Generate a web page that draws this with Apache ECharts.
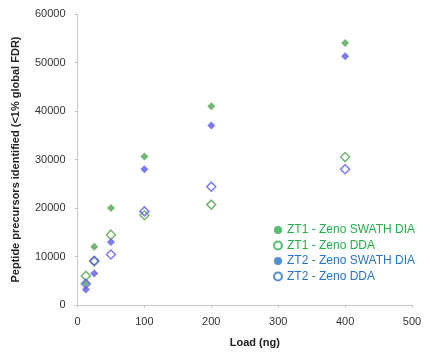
<!DOCTYPE html>
<html>
<head>
<meta charset="utf-8">
<script src="https://cdn.jsdelivr.net/npm/echarts@6/dist/echarts.min.js"></script>
<style>html,body{margin:0;padding:0;background:#fff}#c{width:430px;height:358px}</style>
</head>
<body>
<div id="c"></div>
<script>
var loads = [12.5, 25, 50, 100, 200, 400];
var zt1Swath = [4500, 12000, 20000, 30600, 41000, 54000];
var zt1Dda = [6000, 9000, 14500, 18500, 20700, 30500];
var zt2Swath = [3200, 6500, 13000, 28000, 37000, 51300];
var zt2Dda = [4400, 9100, 10400, 19300, 24400, 28000];
var seriesNames = ['ZT1 - Zeno SWATH DIA', 'ZT1 - Zeno DDA', 'ZT2 - Zeno SWATH DIA', 'ZT2 - Zeno DDA'];

function pairs(ys){ return loads.map(function(x,i){ return [x, ys[i]]; }); }

var GREEN = '#55a355', BLUE = '#5a5af2';
var LG = '#25ae4c', LB = '#2874c8';
var font = 'Liberation Sans, Arial, sans-serif';

var chart = echarts.init(document.getElementById('c'));
chart.setOption({
  animation: false,
  textStyle: {fontFamily: font},
  grid: {left: 77.5, right: 18, top: 14, bottom: 53},
  xAxis: {
    type: 'value', min: 0, max: 500, interval: 100,
    name: 'Load (ng)', nameLocation: 'middle', nameGap: 32,
    nameTextStyle: {fontSize: 11, fontWeight: 'bold', color: '#222', padding: [0,0,0,20], fontFamily: font},
    axisLine: {show: true, lineStyle: {color: '#c8c8c8'}},
    axisTick: {show: true, length: 3, inside: false, lineStyle: {color: '#c8c8c8'}},
    axisLabel: {fontSize: 11, color: '#333', margin: 11, fontFamily: font},
    splitLine: {show: false}
  },
  yAxis: {
    type: 'value', min: 0, max: 60000, interval: 10000,
    name: 'Peptide precursors identified (<1% global FDR)', nameLocation: 'middle', nameGap: 56,
    nameTextStyle: {fontSize: 11, fontWeight: 'bold', color: '#222', fontFamily: font},
    axisLine: {show: true, lineStyle: {color: '#c8c8c8'}},
    axisTick: {show: true, length: 3, lineStyle: {color: '#c8c8c8'}},
    axisLabel: {fontSize: 11, color: '#333', margin: 12, fontFamily: font,
                formatter: function(v){ return String(v); }},
    splitLine: {show: false}
  },
  legend: {
    orient: 'vertical', left: 268, top: 219, icon: 'circle',
    itemWidth: 8, itemHeight: 8, itemGap: 3.5,
    textStyle: {fontSize: 12, fontFamily: font},
    data: [
      {name: seriesNames[0], itemStyle: {color: LG, borderWidth: 0}, textStyle: {color: LG}},
      {name: seriesNames[1], itemStyle: {color: '#fff', borderColor: LG, borderWidth: 2}, textStyle: {color: LG}},
      {name: seriesNames[2], itemStyle: {color: LB, borderWidth: 0}, textStyle: {color: LB}},
      {name: seriesNames[3], itemStyle: {color: '#fff', borderColor: LB, borderWidth: 2}, textStyle: {color: LB}}
    ]
  },
  series: [
    {name: seriesNames[0], type: 'scatter', symbol: 'diamond', symbolSize: 8, data: pairs(zt1Swath),
     itemStyle: {color: GREEN}},
    {name: seriesNames[1], type: 'scatter', symbol: 'diamond', symbolSize: 9, data: pairs(zt1Dda),
     itemStyle: {color: '#fff', borderColor: GREEN, borderWidth: 1.5}},
    {name: seriesNames[2], type: 'scatter', symbol: 'diamond', symbolSize: 8, data: pairs(zt2Swath),
     itemStyle: {color: BLUE}},
    {name: seriesNames[3], type: 'scatter', symbol: 'diamond', symbolSize: 9, data: pairs(zt2Dda),
     itemStyle: {color: 'rgba(255,255,255,0)', borderColor: BLUE, borderWidth: 1.5}}
  ]
});
</script>
</body>
</html>
